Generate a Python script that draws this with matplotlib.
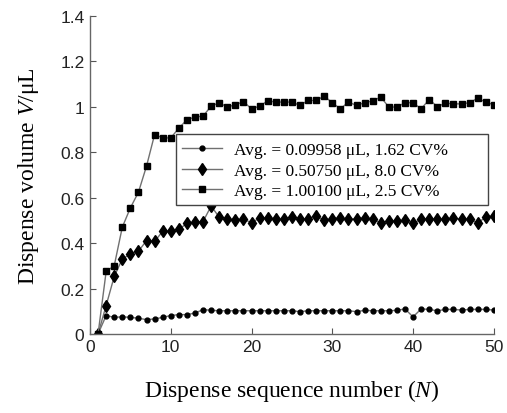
import matplotlib
matplotlib.use("Agg")
import matplotlib.pyplot as plt
from matplotlib.patches import Rectangle
import numpy as np

plt.rcParams['mathtext.fontset'] = 'custom'
plt.rcParams['mathtext.rm'] = 'Liberation Serif'
plt.rcParams['mathtext.it'] = 'Liberation Serif:italic'

seq = list(range(1, 51))

vol_small = [0.0, 0.081, 0.073, 0.075, 0.073, 0.069, 0.063, 0.066, 0.073, 0.081,
             0.085, 0.085, 0.092, 0.107, 0.104, 0.102, 0.102, 0.102, 0.102, 0.102,
             0.102, 0.102, 0.102, 0.102, 0.102, 0.098, 0.102, 0.102, 0.102, 0.102,
             0.102, 0.102, 0.098, 0.104, 0.102, 0.102, 0.102, 0.104, 0.110, 0.075,
             0.110, 0.108, 0.102, 0.108, 0.108, 0.105, 0.108, 0.108, 0.108, 0.105]

vol_mid = [0.0, 0.125, 0.253, 0.330, 0.352, 0.364, 0.411, 0.407, 0.452, 0.452,
           0.460, 0.487, 0.492, 0.495, 0.563, 0.514, 0.505, 0.503, 0.505, 0.490,
           0.510, 0.512, 0.505, 0.505, 0.515, 0.505, 0.507, 0.520, 0.500, 0.508,
           0.510, 0.505, 0.507, 0.512, 0.505, 0.490, 0.498, 0.497, 0.500, 0.487,
           0.505, 0.508, 0.505, 0.505, 0.510, 0.505, 0.505, 0.490, 0.513, 0.520]

vol_large = [0.0, 0.275, 0.300, 0.470, 0.555, 0.624, 0.739, 0.878, 0.863, 0.863,
             0.906, 0.943, 0.955, 0.959, 1.003, 1.018, 0.999, 1.009, 1.023, 0.991,
             1.003, 1.026, 1.021, 1.021, 1.021, 1.006, 1.028, 1.028, 1.047, 1.018,
             0.991, 1.021, 1.006, 1.018, 1.026, 1.043, 0.999, 0.999, 1.018, 1.018,
             0.991, 1.032, 1.001, 1.016, 1.013, 1.013, 1.018, 1.038, 1.021, 1.009]

labels = ["Avg. = 0.09958 μL, 1.62 CV%",
          "Avg. = 0.50750 μL, 8.0 CV%",
          "Avg. = 1.00100 μL, 2.5 CV%"]

fig = plt.figure(figsize=(5.07, 4.14), dpi=100)
ax = fig.add_axes([0.1775, 0.191, 0.7965, 0.768])

lc = '#707070'
ax.plot(seq, vol_small, color=lc, lw=1, marker='o', ms=3.5, mfc='black', mec='black', label=labels[0])
ax.plot(seq, vol_mid, color=lc, lw=1, marker='d', ms=6, mfc='black', mec='black', label=labels[1])
ax.plot(seq, vol_large, color=lc, lw=1, marker='s', ms=4.5, mfc='black', mec='black', label=labels[2])

ax.set_xlim(0, 50)
ax.set_ylim(0, 1.4)
ax.set_xticks([0, 10, 20, 30, 40, 50])
ax.set_yticks([0, 0.2, 0.4, 0.6, 0.8, 1.0, 1.2, 1.4])
ax.set_yticklabels(['0', '0.2', '0.4', '0.6', '0.8', '1', '1.2', '1.4'])
ax.tick_params(direction='in', length=4, width=0.8, color='#555555',
               labelsize=12.5, labelfontfamily='Liberation Sans', pad=4,
               labelcolor='#222222')
for s in ['top', 'right']:
    ax.spines[s].set_visible(False)
for s in ['left', 'bottom']:
    ax.spines[s].set_color('#666666')
    ax.spines[s].set_linewidth(1)

ax.set_xlabel("Dispense sequence number ($N$)", fontsize=17, family='Liberation Serif', labelpad=16)
ax.set_ylabel("Dispense volume $V$/μL", fontsize=17, family='Liberation Serif', labelpad=14)

# legend frame drawn in figure pixel space: x 176..488, y(top-down) 135..206
W, H = 507, 414
frame = Rectangle((176 / W, 1 - 206 / H), (488 - 176) / W, (206 - 135) / H,
                  transform=fig.transFigure, facecolor='white', edgecolor='#444444',
                  lw=1, zorder=4)
fig.add_artist(frame)

leg = fig.legend(handles=ax.get_lines(), labels=labels, loc='upper left',
                 bbox_to_anchor=(176 / W, 1 - 137 / H), borderaxespad=0,
                 prop={'family': 'Liberation Serif', 'size': 12.5}, numpoints=1,
                 handlelength=2.3, frameon=False,
                 borderpad=0.35, labelspacing=0.25, handletextpad=0.7)
leg.set_zorder(5)

fig.savefig("out.png", dpi=100)
